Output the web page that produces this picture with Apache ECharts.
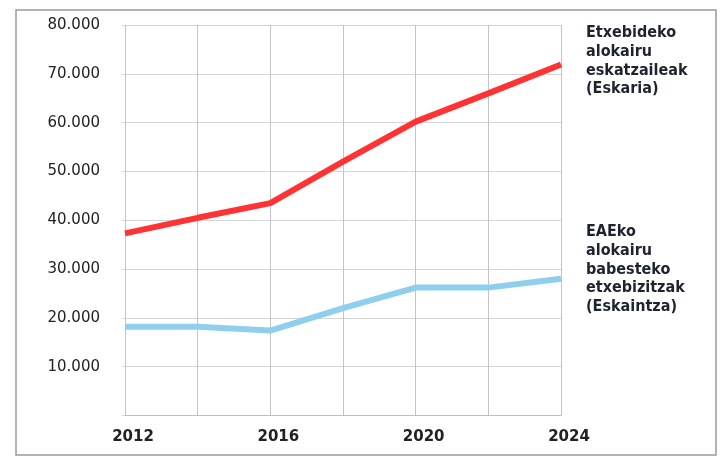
<!DOCTYPE html>
<html><head><meta charset="utf-8">
<script src="https://cdn.jsdelivr.net/npm/echarts@6/dist/echarts.min.js"></script>
<style>html,body{margin:0;padding:0;background:#fff}#c{width:724px;height:466px}</style>
</head><body><div id="c"></div>
<script>
const years = ['2012','2014','2016','2018','2020','2022','2024'];
const eskaria = [37300, 40500, 43500, 52000, 60200, 66000, 71900];
const eskaintza = [18200, 18200, 17400, 22000, 26200, 26200, 28000];
const eskariaLabel = 'Etxebideko\nalokairu\neskatzaileak\n(Eskaria)';
const eskaintzaLabel = 'EAEko\nalokairu\nbabesteko\netxebizitzak\n(Eskaintza)';

const chart = echarts.init(document.getElementById('c'), null, {renderer:'canvas'});
const legendFont = {fontFamily:'DejaVu Sans Condensed, DejaVu Sans', fontWeight:'bold', fontSize:16, fill:'#1f2330', lineHeight:18.6};
chart.setOption({
  animation:false,
  grid:{left:125, right:163, top:25, bottom:50.5},
  xAxis:{
    type:'category', data:years, boundaryGap:false,
    axisLine:{show:true, lineStyle:{color:'#bdbdbd', width:1}},
    axisTick:{show:false},
    axisLabel:{interval:1, margin:14, fontFamily:'DejaVu Sans', fontWeight:'bold', fontSize:15, color:'#222', padding:[0,0,0,16]},
    splitLine:{show:true, interval:0, lineStyle:{color:'#c4c4c4', width:1}}
  },
  yAxis:{
    type:'value', min:0, max:80000, interval:10000,
    axisLine:{show:false},
    axisTick:{show:true, length:3, lineStyle:{color:'#d6d6d6'}},
    axisLabel:{margin:25, fontFamily:'DejaVu Sans', fontSize:15, color:'#222',
      formatter:v => v === 0 ? '' : (v/1000).toFixed(0) + '.000'},
    splitLine:{show:true, lineStyle:{color:'#d6d6d6', width:1}}
  },
  series:[
    {type:'line', data:eskaria, symbol:'none', lineStyle:{color:'#ff3333', width:6}, z:3},
    {type:'line', data:eskaintza, symbol:'none', lineStyle:{color:'#8ecfee', width:6}, z:3}
  ],
  graphic:[
    {type:'rect', shape:{x:16, y:10, width:700, height:445}, style:{fill:'none', stroke:'#9a9a9a', lineWidth:1.5}, silent:true},
    {type:'text', left:586, top:24, style:Object.assign({text:eskariaLabel}, legendFont)},
    {type:'text', left:586, top:223, style:Object.assign({text:eskaintzaLabel}, legendFont)}
  ]
});
</script></body></html>
